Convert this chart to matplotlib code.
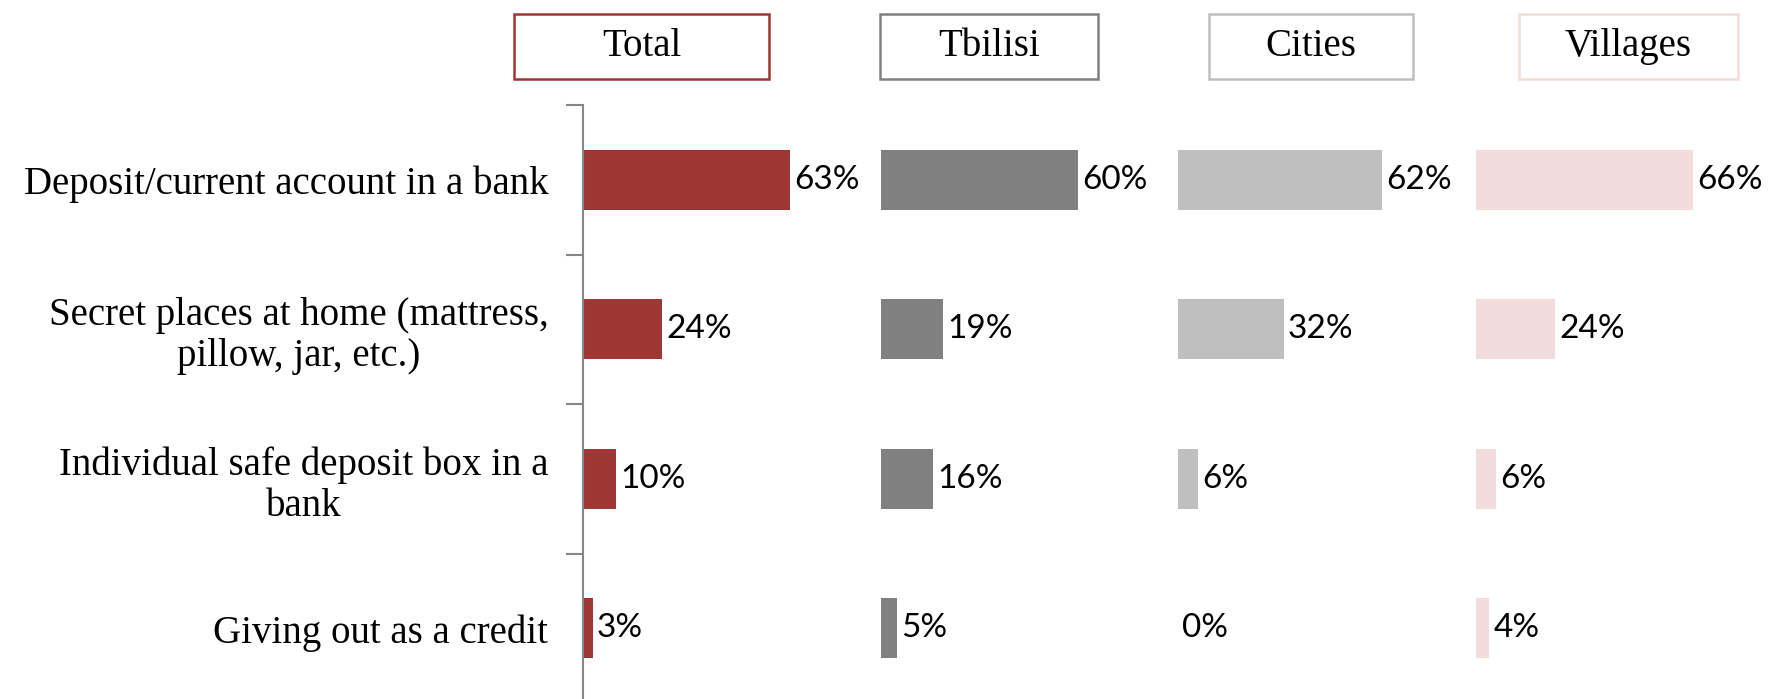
import matplotlib.pyplot as plt
from matplotlib.patches import Rectangle

# survey answers: where savings are kept, share of respondents (%)
categories = [
    "Deposit/current account in a bank",
    "Secret places at home (mattress,\npillow, jar, etc.)",
    "Individual safe deposit box in a\nbank",
    "Giving out as a credit",
]
groups = ["Total", "Tbilisi", "Cities", "Villages"]
total = [63, 24, 10, 3]
tbilisi = [60, 19, 16, 5]
cities = [62, 32, 6, 0]
villages = [66, 24, 6, 4]

colors = ["#9E3734", "#808080", "#BFBFBF", "#F2DCDB"]
series = [total, tbilisi, cities, villages]

W, H = 1773, 699
fig = plt.figure(figsize=(W / 100, H / 100), dpi=100)

# axes placed in pixel terms: left spine at x=583, top at y=105
px_per_pct = 3.29
group_step = 90.5
xmax = 360
left, top, row_h = 583, 105, 149.5
ax_h = row_h * len(categories)
ax = fig.add_axes([left / W, 1 - (top + ax_h) / H, xmax * px_per_pct / W, ax_h / H])

y = list(range(len(categories)))
for g, (vals, col) in enumerate(zip(series, colors)):
    start = g * group_step
    ax.barh(y, vals, left=start, height=0.4, color=col)
    for yi, v in zip(y, vals):
        ax.text(start + v + 1.2, yi, f"{v}%", va="center", ha="left",
                fontsize=24, family="Lato", color="black")

ax.set_xlim(0, xmax)
ax.set_ylim(len(categories) - 0.5, -0.5)
for s in ["top", "right", "bottom"]:
    ax.spines[s].set_visible(False)
ax.spines["left"].set_color("#868686")
ax.spines["left"].set_linewidth(1.5)
ax.set_xticks([])
ax.set_yticks(y)
ax.set_yticklabels(categories, family="Liberation Serif", fontsize=28,
                   multialignment="center", linespacing=1.15)
ax.tick_params(axis="y", which="major", length=0, pad=25)
ax.set_yticks([i - 0.5 for i in range(len(categories) + 1)], minor=True)
ax.tick_params(axis="y", which="minor", length=12, width=1.5, color="#868686",
               direction="out")

# header boxes above each group
boxes = [(514, 769), (880, 1098), (1209, 1413), (1519, 1738)]
for name, col, (x0, x1) in zip(groups, colors, boxes):
    y0, y1 = 14, 79
    fig.add_artist(Rectangle((x0 / W, 1 - y1 / H), (x1 - x0) / W, (y1 - y0) / H,
                             transform=fig.transFigure, fill=False,
                             edgecolor=col, linewidth=1.8))
    fig.text((x0 + x1) / 2 / W, 1 - (y0 + y1) / 2 / H, name, ha="center",
             va="center", family="Liberation Serif", fontsize=28)

fig.savefig("out.png", dpi=100)
